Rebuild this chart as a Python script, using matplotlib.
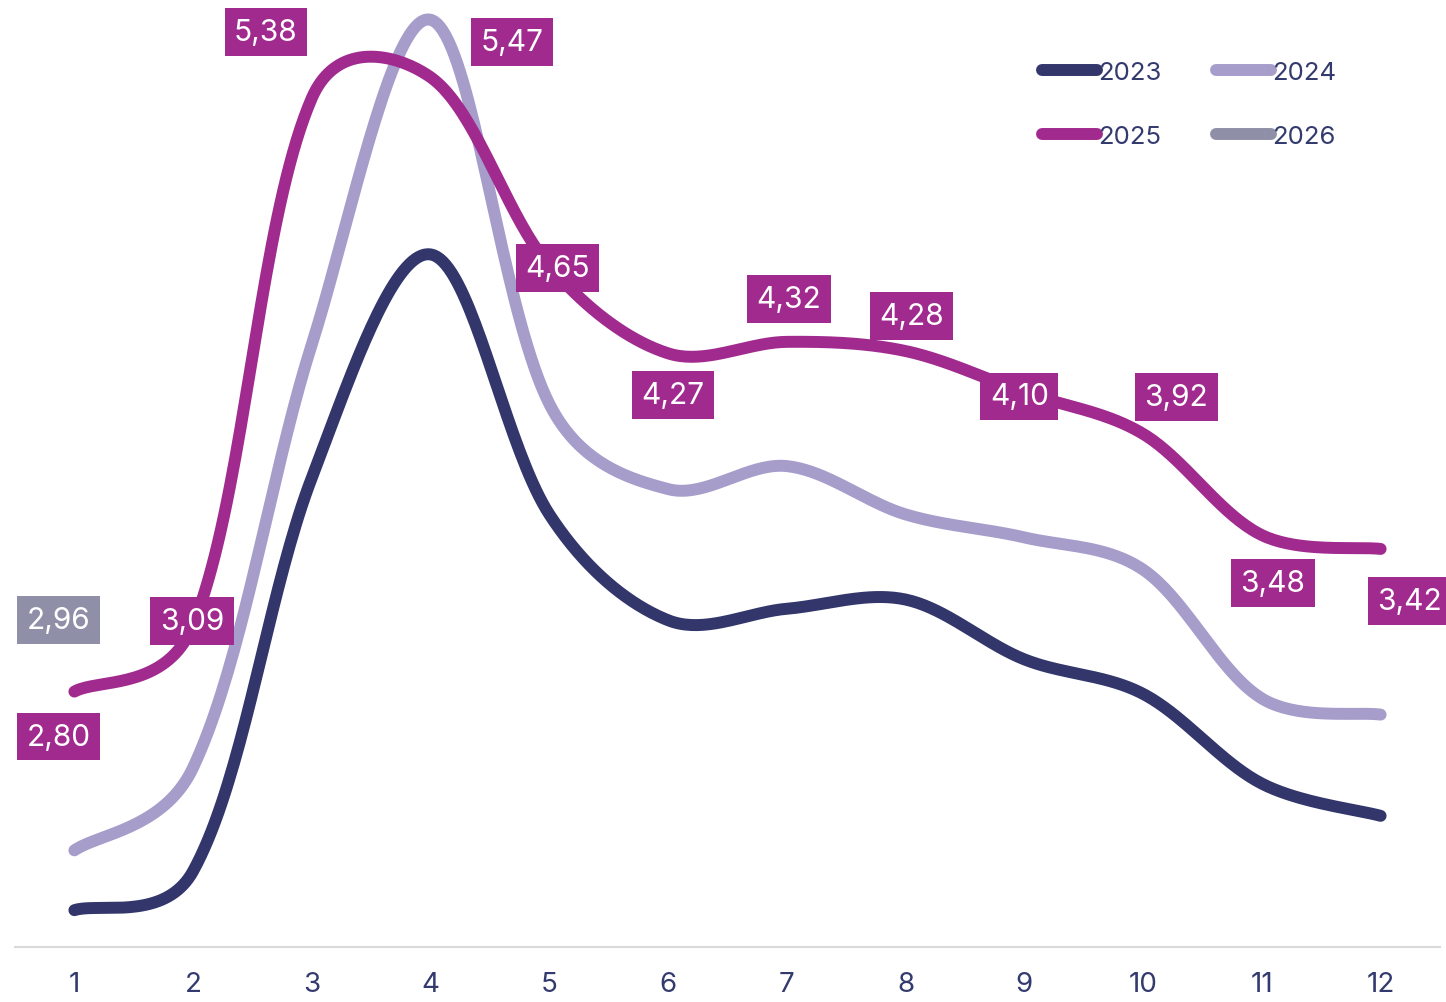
import numpy as np
import matplotlib.pyplot as plt

plt.rcParams['font.family'] = ['Inter', 'DejaVu Sans']

months = [1, 2, 3, 4, 5, 6, 7, 8, 9, 10, 11, 12]
v2023 = [1.85, 2.02, 3.73, 4.70, 3.57, 3.11, 3.16, 3.20, 2.94, 2.79, 2.40, 2.26]
v2024 = [2.11, 2.47, 4.31, 5.72, 4.05, 3.68, 3.78, 3.57, 3.47, 3.33, 2.77, 2.70]
v2025 = [2.80, 3.09, 5.38, 5.47, 4.65, 4.27, 4.32, 4.28, 4.10, 3.92, 3.48, 3.42]
m2026 = [1]
v2026 = [2.96]

c2023 = '#32366b'
c2024 = '#a69dcb'
c2025 = '#a12a8f'
c2026 = '#8f90a8'
txt = '#333a6e'

# label offsets in pixels (dx, dy)
off2025 = [(-16, -45), (-1, 4), (-46, 66), (81, 35), (8, -2), (5, -42),
           (2, 43), (6, 35), (-5, -4), (33, 37), (11, -48), (29, -52)]
off2026 = [(-16, 35)]

W, H = 1446, 1003
ax_box = [15, 55, 1425, 948]  # left, bottom, width, height in px
xlim = (0.5, 12.5)
ylim = (1.69, 5.81)
sx = ax_box[2] / (xlim[1] - xlim[0])
sy = ax_box[3] / (ylim[1] - ylim[0])


def smooth(x, y, n=40):
    # bezier spline, handles weighted by sqrt of screen distance
    P = np.column_stack([np.asarray(x, float) * sx, np.asarray(y, float) * sy])
    k = len(P)
    cin = P.copy()
    cout = P.copy()
    for i in range(k):
        if i == 0:
            cout[i] = P[0] + (P[1] - P[0]) / 5
            continue
        if i == k - 1:
            cin[i] = P[i] - (P[i] - P[i - 1]) / 5
            continue
        T = P[i + 1] - P[i - 1]
        d1 = np.hypot(*(P[i] - P[i - 1])) ** 0.5
        d2 = np.hypot(*(P[i + 1] - P[i])) ** 0.5
        cin[i] = P[i] - T * d1 / (d1 + d2) / 3
        cout[i] = P[i] + T * d2 / (d1 + d2) / 3
    t = np.linspace(0, 1, n)[:, None]
    segs = []
    for i in range(k - 1):
        b = ((1 - t)**3 * P[i] + 3 * (1 - t)**2 * t * cout[i]
             + 3 * (1 - t) * t**2 * cin[i + 1] + t**3 * P[i + 1])
        segs.append(b)
    out = np.vstack(segs)
    return out[:, 0] / sx, out[:, 1] / sy


def label_box(x0, y0, width, height, mutation_size):
    from matplotlib.path import Path
    px = 0.32 * mutation_size
    py = 0.33 * mutation_size
    x0, y0 = x0 - px, y0 - py
    x1, y1 = x0 + width + 2 * px, y0 + height + 2 * py
    return Path([(x0, y0), (x1, y0), (x1, y1), (x0, y1), (x0, y0)], closed=True)


fig = plt.figure(figsize=(W / 100, H / 100), dpi=100)
ax = fig.add_axes([ax_box[0] / W, ax_box[1] / H, ax_box[2] / W, ax_box[3] / H])

for vals, col, lbl in [(v2023, c2023, '2023'), (v2024, c2024, '2024'), (v2025, c2025, '2025')]:
    xs, ys = smooth(months, vals)
    ax.plot(xs, ys, color=col, lw=8.6, solid_capstyle='round', label=lbl)
ax.plot(m2026, v2026, color=c2026, lw=8.6, solid_capstyle='round', label='2026')

for xs_, vs_, offs, col in [(months, v2025, off2025, c2025), (m2026, v2026, off2026, c2026)]:
    for xv, yv, (dx, dy) in zip(xs_, vs_, offs):
        ax.annotate(f'{yv:.2f}'.replace('.', ','), (xv, yv), xytext=(dx, dy), textcoords='offset pixels',
                    ha='center', va='center', color='white', fontsize=21.5, zorder=5,
                    annotation_clip=False, bbox=dict(boxstyle=label_box, fc=col, ec='none'))

ax.set_xlim(*xlim)
ax.set_ylim(*ylim)
ax.set_xticks(months)
ax.set_yticks([])
ax.tick_params(axis='x', length=0, pad=17, labelsize=20, labelcolor=txt)
for s in ['top', 'right', 'left']:
    ax.spines[s].set_visible(False)
ax.spines['bottom'].set_color('#d9d9d9')
ax.spines['bottom'].set_linewidth(1.5)

h, l = ax.get_legend_handles_labels()
order = [0, 2, 1, 3]
ax.legend([h[i] for i in order], [l[i] for i in order], ncol=2, frameon=False, fontsize=18.5,
          labelcolor=txt, handlelength=2.15, handletextpad=0.05, columnspacing=2.1,
          labelspacing=1.6, loc='upper left', bbox_to_anchor=(1042 / W, 1 - 62 / H),
          bbox_transform=fig.transFigure, borderaxespad=0, borderpad=0)

fig.savefig('out.png', dpi=100)
